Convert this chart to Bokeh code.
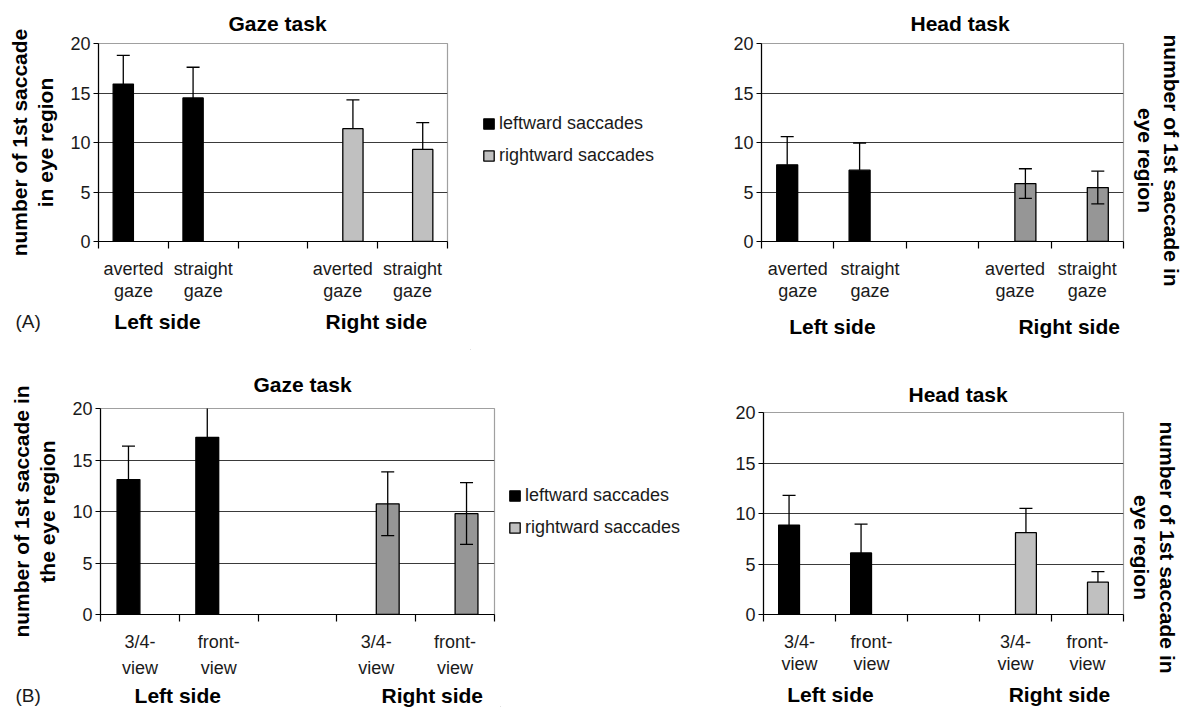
import math
from bokeh.plotting import figure
from bokeh.models import (Range1d, FixedTicker, Whisker, TeeHead,
                          ColumnDataSource, Legend, LegendItem, Label)
from bokeh.layouts import column, row
from bokeh.embed import file_html
from bokeh.resources import INLINE
from bokeh.transform import dodge

FONT = "Liberation Sans"

# ---------------- data ----------------
slot_labels_gaze = ["averted\ngaze", "straight\ngaze", "", "averted\ngaze", "straight\ngaze"]
slot_labels_view = ["3/4-\nview", "front-\nview", "", "3/4-\nview", "front-\nview"]
side_labels = ["Left side", "Right side"]
series_names = ["leftward saccades", "rightward saccades"]
left_slots = [0, 1]
right_slots = [3, 4]

# (A) Gaze task - gaze direction
a_left_mean = [15.9, 14.5]
a_left_err = [2.9, 3.1]
a_right_mean = [11.4, 9.3]
a_right_err = [2.9, 2.7]

# (A) Head task - gaze direction
b_left_mean = [7.75, 7.2]
b_left_err = [2.85, 2.75]
b_right_mean = [5.85, 5.45]
b_right_err = [1.5, 1.65]

# (B) Gaze task - head orientation
c_left_mean = [13.1, 17.2]
c_left_err = [3.25, 3.15]
c_right_mean = [10.75, 9.8]
c_right_err = [3.1, 3.0]

# (B) Head task - head orientation
d_left_mean = [8.85, 6.1]
d_left_err = [2.95, 2.85]
d_right_mean = [8.1, 3.2]
d_right_err = [2.4, 1.05]

BLACK = "#000000"
LIGHT = "#c0c0c0"
DARK = "#969696"
BAR_W = 0.29
OFF = 0.145
NSLOT = 5


def no_align(f):
    try:
        f.frame_align = False
    except Exception:
        pass


def bare_figure(width, height, x_range):
    f = figure(width=width, height=height, x_range=x_range, y_range=Range1d(0, 1),
               output_backend="svg", toolbar_location=None, min_border=0,
               x_axis_location=None, y_axis_location=None,
               background_fill_color="white", border_fill_color="white")
    f.outline_line_color = None
    f.grid.visible = False
    no_align(f)
    return f


def make_panel(title, slot_labels, lmean, lerr, rmean, rerr, l_both, r_both, rcolor,
               width, height, mb, ylabel, title_off, title_standoff, label_lh):
    p = figure(width=width, height=height, x_range=Range1d(0, NSLOT), y_range=Range1d(0, 20),
               output_backend="svg", toolbar_location=None,
               min_border_left=mb[0], min_border_right=mb[1],
               min_border_top=mb[2], min_border_bottom=mb[3],
               background_fill_color="white", border_fill_color="white")
    no_align(p)
    p.outline_line_color = "#a0a0a0"
    p.outline_line_width = 1.2
    p.xgrid.visible = False
    p.ygrid.ticker = FixedTicker(ticks=[5, 10, 15])
    p.ygrid.grid_line_color = "#3a3a3a"
    p.ygrid.grid_line_width = 1.2

    lsrc = ColumnDataSource(dict(x=[s + 0.5 for s in left_slots], top=lmean,
                                 upper=[m + e for m, e in zip(lmean, lerr)],
                                 lower=[m - e if l_both else m for m, e in zip(lmean, lerr)]))
    rsrc = ColumnDataSource(dict(x=[s + 0.5 for s in right_slots], top=rmean,
                                 upper=[m + e for m, e in zip(rmean, rerr)],
                                 lower=[m - e if r_both else m for m, e in zip(rmean, rerr)]))
    p.vbar(x=dodge("x", -OFF), top="top", width=BAR_W, source=lsrc,
           fill_color=BLACK, line_color="black", line_width=1.3)
    p.vbar(x=dodge("x", OFF), top="top", width=BAR_W, source=rsrc,
           fill_color=rcolor, line_color="black", line_width=1.3)
    for src, off, both in ((lsrc, -OFF, l_both), (rsrc, OFF, r_both)):
        w = Whisker(base=dodge("x", off), upper="upper", lower="lower", source=src,
                    line_color="black", line_width=1.3, level="overlay",
                    upper_head=TeeHead(size=13, line_color="black", line_width=1.3),
                    lower_head=TeeHead(size=13, line_color="black", line_width=1.3) if both else None)
        p.add_layout(w)

    xa = p.xaxis[0]
    centers = [i + 0.5 for i, t in enumerate(slot_labels) if t]
    xa.ticker = FixedTicker(ticks=centers, minor_ticks=list(range(NSLOT + 1)))
    xa.major_label_overrides = {i + 0.5: t for i, t in enumerate(slot_labels) if t}
    xa.major_tick_out = 7
    xa.major_tick_in = 0
    xa.major_tick_line_color = None
    xa.minor_tick_out = 7
    xa.minor_tick_in = 0
    xa.minor_tick_line_color = "black"
    xa.minor_tick_line_width = 1.2
    xa.axis_line_color = "black"
    xa.axis_line_width = 1.2
    xa.major_label_standoff = 10
    xa.major_label_text_font = FONT
    xa.major_label_text_font_size = "18px"
    xa.major_label_text_color = "#1a1a1a"
    xa.major_label_text_line_height = label_lh

    ya = p.yaxis[0]
    ya.ticker = FixedTicker(ticks=[0, 5, 10, 15, 20])
    ya.major_tick_out = 5
    ya.major_tick_in = 0
    ya.minor_tick_line_color = None
    ya.axis_line_color = "black"
    ya.axis_line_width = 1.2
    ya.major_tick_line_width = 1.2
    ya.major_label_standoff = 3
    ya.major_label_text_font = FONT
    ya.major_label_text_font_size = "18px"
    ya.major_label_text_color = "#1a1a1a"
    if ylabel:
        ya.axis_label = ylabel
        ya.axis_label_text_font = FONT
        ya.axis_label_text_font_style = "bold"
        ya.axis_label_text_font_size = "21px"
        ya.axis_label_text_color = "black"
        ya.axis_label_text_line_height = 1.15
        ya.axis_label_standoff = 10

    p.title.text = title
    p.title.align = "left"
    p.title.text_font = FONT
    p.title.text_font_size = "21px"
    p.title.text_font_style = "bold"
    p.title.text_color = "black"
    p.title.offset = title_off
    p.title.standoff = title_standoff
    return p


def make_strip(width, height, frame_left, frame_width, group_x, baseline_y, letter=None):
    slot = frame_width / NSLOT
    s = bare_figure(width, height, Range1d(-frame_left / slot, (width - frame_left) / slot))
    for gx, gl in zip(group_x, side_labels):
        s.add_layout(Label(x=gx, y=baseline_y, x_units="data", y_units="screen", text=gl,
                           text_font=FONT, text_font_style="bold", text_font_size="21px",
                           text_color="black", text_align="center", text_baseline="alphabetic"))
    if letter is not None:
        s.add_layout(Label(x=letter[1], y=baseline_y, x_units="screen", y_units="screen",
                           text=letter[0], text_font=FONT, text_font_size="19px",
                           text_color="#1a1a1a", text_align="left", text_baseline="alphabetic"))
    return s


def make_side_title(width, height, text, cx, cy):
    s = bare_figure(width, height, Range1d(0, 1))
    s.add_layout(Label(x=cx, y=cy, x_units="screen", y_units="screen", text=text,
                       angle=-math.pi / 2, text_font=FONT, text_font_style="bold",
                       text_font_size="21px", text_color="black", text_line_height=1.15,
                       text_align="center", text_baseline="middle"))
    return s


def make_legend_fig(width, height, colors, loc):
    f = bare_figure(width, height, Range1d(0, 1))
    # legend swatches only: one zero-height bar placed outside the visible range
    rs = [f.vbar(x=[-5], top=[0], width=0.1, fill_color=c, line_color="black", line_width=1.3)
          for c in colors]
    leg = Legend(items=[LegendItem(label=n, renderers=[r]) for n, r in zip(series_names, rs)],
                 location=loc)
    leg.background_fill_alpha = 0
    leg.border_line_color = None
    leg.padding = 0
    leg.margin = 0
    leg.glyph_width = 13
    leg.glyph_height = 13
    leg.label_height = 13
    leg.label_standoff = 4
    leg.spacing = 11
    leg.label_text_font = FONT
    leg.label_text_font_size = "18px"
    leg.label_text_color = "#1a1a1a"
    f.add_layout(leg, "center")
    return f


# ---- top row (A) ----
pA = make_panel("Gaze task", slot_labels_gaze, a_left_mean, a_left_err, a_right_mean, a_right_err,
                False, False, LIGHT, 470, 311, (98, 23, 43, 70),
                "number of 1st saccade\nin eye region", 130, 17, 1.1)
sA = make_strip(470, 39, 98, 349, (0.845, 3.98), 29, letter=("(A)", 15))
legA = make_legend_fig(224, 350, (BLACK, LIGHT), (12, 184))

pB = make_panel("Head task", slot_labels_gaze, b_left_mean, b_left_err, b_right_mean, b_right_err,
                False, True, DARK, 431, 311, (67, 2, 43, 70), None, 149, 17, 1.1)
sB = make_strip(431, 39, 67, 362, (0.98, 4.25), 24)
tB = make_side_title(63, 350, "number of 1st saccade in\neye region", 33, 190)

# ---- bottom row (B) ----
pC = make_panel("Gaze task", slot_labels_view, c_left_mean, c_left_err, c_right_mean, c_right_err,
                False, True, DARK, 500, 334, (100, 6, 58, 70),
                "number of 1st saccade in\nthe eye region", 153, 25, 1.3)
sC = make_strip(500, 23, 100, 394, (0.98, 4.21), 12, letter=("(B)", 15))
legC = make_legend_fig(194, 357, (BLACK, LIGHT), (8, 169))

pD = make_panel("Head task", slot_labels_view, d_left_mean, d_left_err, d_right_mean, d_right_err,
                False, False, LIGHT, 431, 330, (69, 2, 62, 66), None, 145, 13, 1.1)
sD = make_strip(431, 27, 69, 360, (0.93, 4.11), 13)
tD = make_side_title(63, 357, "number of 1st saccade in\neye region", 29, 160)

layout = column(row(column(pA, sA), legA, column(pB, sB), tB),
                row(column(pC, sC), legC, column(pD, sD), tD))
open("out.html", "w").write(file_html(layout, INLINE))
